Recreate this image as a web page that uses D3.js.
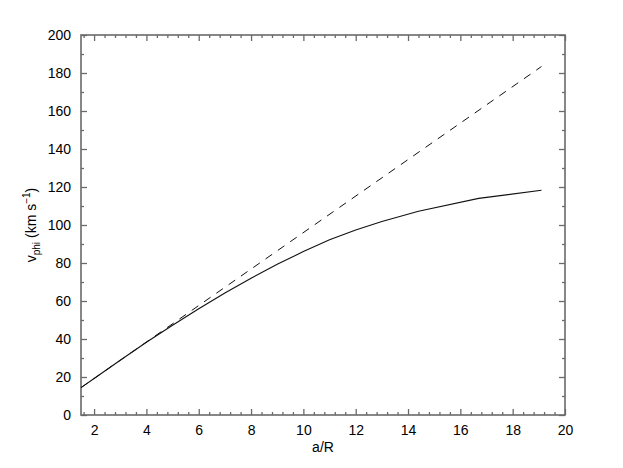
<!DOCTYPE html>
<html>
<head>
<meta charset="utf-8">
<script src="https://cdn.jsdelivr.net/npm/d3@7"></script>
<style>
body { margin: 0; background: #fff; }
text { font-family: "Liberation Sans", Arial, Helvetica, sans-serif; fill: #000; }
</style>
</head>
<body>
<svg width="623" height="468"></svg>
<script>
// rotation curve (solid) and the linear / solid-body line (dashed)
var aSolid = [1.5, 2, 3, 4, 5, 6, 7, 8, 9, 10, 11, 12, 13, 14.4, 16.7, 19.1];
var vSolid = [14.4, 19.2, 28.8, 38.3, 47.2, 55.9, 64.2, 72.0, 79.3, 86.0, 92.2, 97.4, 101.8, 107.2, 114.0, 118.3];
var aDash = [1.5, 19.1];
var vDash = [14.4, 183.4];

var xTicks = [2, 4, 6, 8, 10, 12, 14, 16, 18, 20];
var yTicks = [0, 20, 40, 60, 80, 100, 120, 140, 160, 180, 200];

var margins = {top: 35, right: 58, bottom: 53, left: 81};
var screen = {width: 623, height: 468};
var width = screen.width - margins.left - margins.right;
var height = screen.height - margins.top - margins.bottom;

var xScale = d3.scaleLinear().domain([1.5, 20]).range([0, width]);
var yScale = d3.scaleLinear().domain([0, 200]).range([height, 0]);

// minor ticks: 5 per x interval, 2 per y interval
var xMinor = d3.range(16, 201, 4).map(function(d){ return d / 10; })
    .filter(function(d){ return xTicks.indexOf(d) < 0; });
var yMinor = d3.range(10, 200, 20);

var svg = d3.select("svg");
var g = svg.append("g")
    .attr("transform", "translate(" + margins.left + "," + margins.top + ")");

var axisColor = "#6a6a6a";

function styleAxis(sel) {
    sel.select(".domain").remove();
    sel.selectAll("line").attr("stroke", axisColor).attr("stroke-width", 1.3);
    sel.selectAll("text").attr("font-size", "14px").attr("fill", "#000");
}

// bottom
g.append("g").attr("transform", "translate(0," + height + ")")
    .call(d3.axisBottom(xScale).tickValues(xTicks).tickSize(-6).tickSizeOuter(0).tickPadding(10)
        .tickFormat(d3.format("d")))
    .call(styleAxis);
g.append("g").attr("transform", "translate(0," + height + ")")
    .call(d3.axisBottom(xScale).tickValues(xMinor).tickSize(-3).tickFormat(""))
    .call(styleAxis);
// top
g.append("g")
    .call(d3.axisTop(xScale).tickValues(xTicks).tickSize(-6).tickFormat(""))
    .call(styleAxis);
g.append("g")
    .call(d3.axisTop(xScale).tickValues(xMinor).tickSize(-3).tickFormat(""))
    .call(styleAxis);
// left
g.append("g")
    .call(d3.axisLeft(yScale).tickValues(yTicks).tickSize(-6).tickSizeOuter(0).tickPadding(10)
        .tickFormat(d3.format("d")))
    .call(styleAxis);
g.append("g")
    .call(d3.axisLeft(yScale).tickValues(yMinor).tickSize(-3).tickFormat(""))
    .call(styleAxis);
// right
g.append("g").attr("transform", "translate(" + width + ",0)")
    .call(d3.axisRight(yScale).tickValues(yTicks).tickSize(-6).tickFormat(""))
    .call(styleAxis);
g.append("g").attr("transform", "translate(" + width + ",0)")
    .call(d3.axisRight(yScale).tickValues(yMinor).tickSize(-3).tickFormat(""))
    .call(styleAxis);

// frame
g.append("rect")
    .attr("x", 0).attr("y", 0)
    .attr("width", width).attr("height", height)
    .attr("fill", "none")
    .attr("stroke", axisColor)
    .attr("stroke-width", 1.6);

var line = d3.line()
    .x(function(d){ return xScale(d[0]); })
    .y(function(d){ return yScale(d[1]); });

g.append("path")
    .datum(d3.zip(aDash, vDash))
    .attr("d", line)
    .attr("fill", "none")
    .attr("stroke", "#111")
    .attr("stroke-width", 1)
    .attr("stroke-dasharray", "8,7");

g.append("path")
    .datum(d3.zip(aSolid, vSolid))
    .attr("d", line)
    .attr("fill", "none")
    .attr("stroke", "#111")
    .attr("stroke-width", 1.1);

// x title
svg.append("text")
    .attr("x", margins.left + width / 2)
    .attr("y", 452)
    .attr("text-anchor", "middle")
    .attr("font-size", "14px")
    .text("a/R");

// y title with sub- and superscript
var yt = svg.append("text")
    .attr("transform", "translate(36," + (margins.top + height / 2) + ") rotate(-90)")
    .attr("text-anchor", "middle")
    .attr("font-size", "14px");
yt.append("tspan").text("v");
yt.append("tspan").attr("font-size", "10px").attr("dy", 4).text("phi");
yt.append("tspan").attr("dy", -4).text(" (km s");
yt.append("tspan").attr("font-size", "10px").attr("dy", -6).text("\u22121");
yt.append("tspan").attr("dy", 6).text(")");
</script>
</body>
</html>
